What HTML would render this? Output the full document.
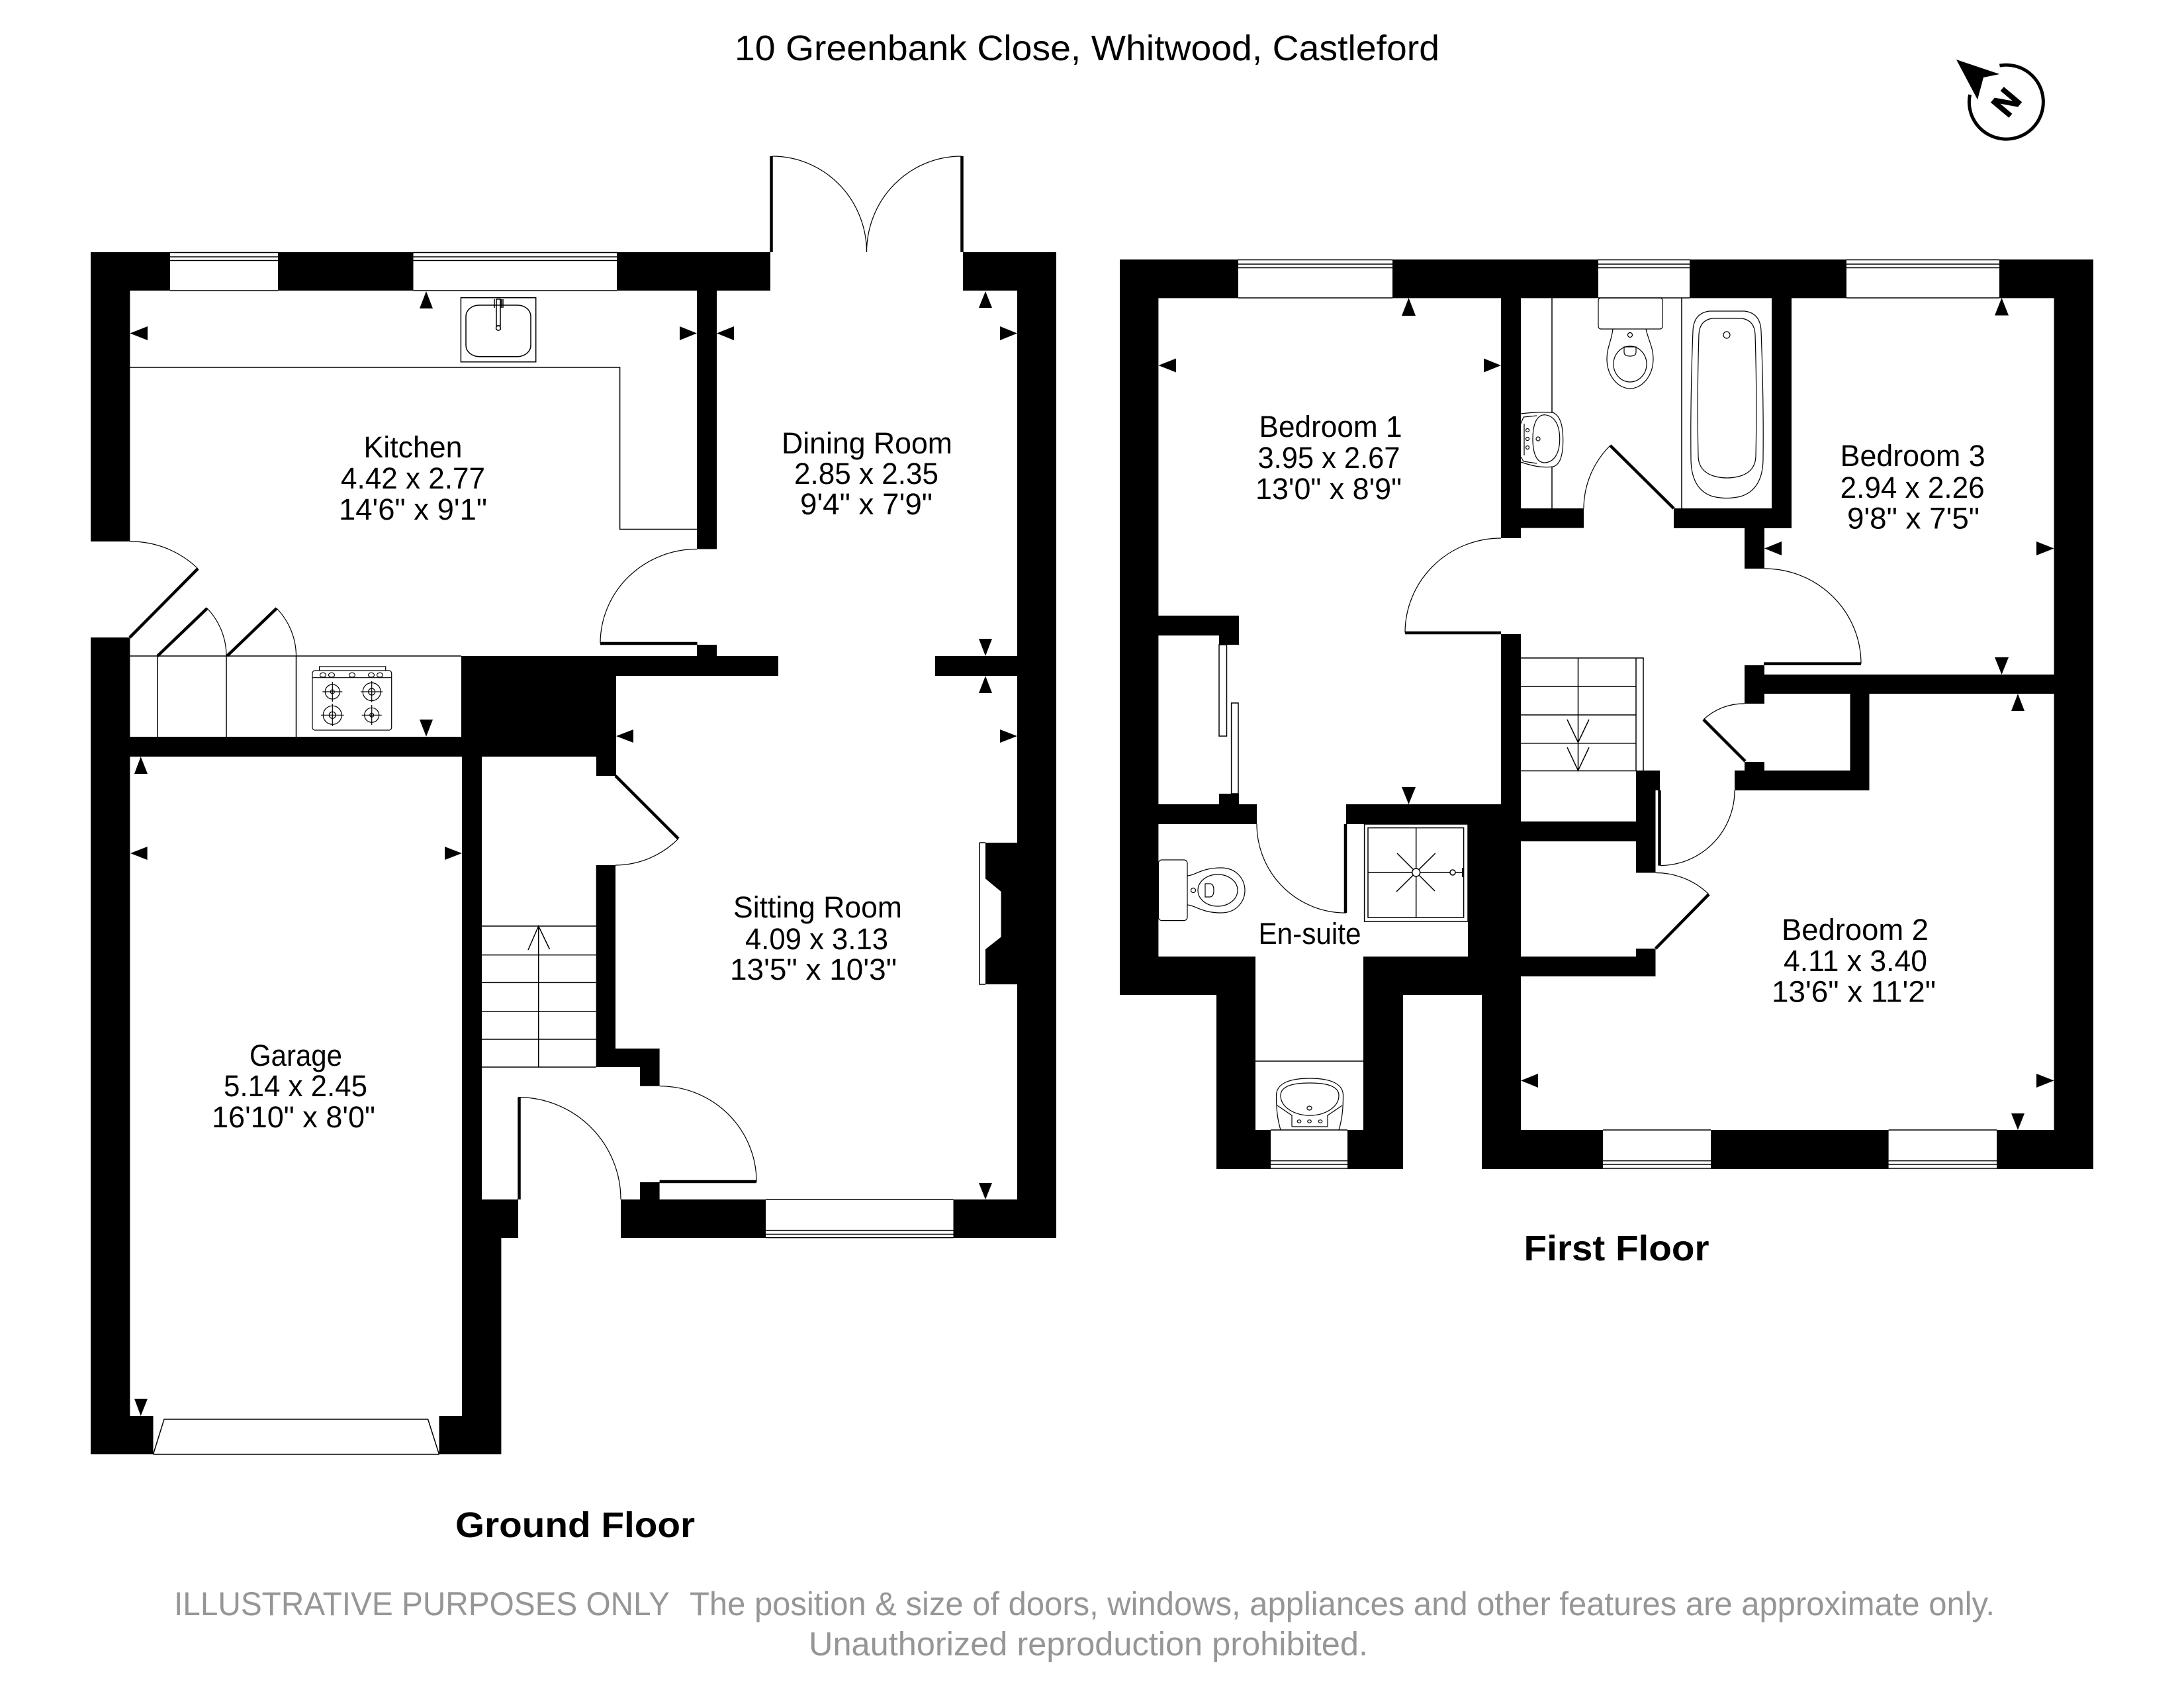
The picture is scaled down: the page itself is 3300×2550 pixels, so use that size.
<!DOCTYPE html>
<html><head><meta charset="utf-8"><title>10 Greenbank Close floor plan</title>
<style>html,body{margin:0;padding:0;background:#fff}svg{display:block}
text{font-family:"Liberation Sans",sans-serif;fill:#000}
.r{font-size:45px}.b{font-size:54px;font-weight:bold}.g{font-size:50px;fill:#969696}
.l{fill:none;stroke:#000;stroke-width:1.5}.k{fill:none;stroke:#000;stroke-width:4.5}.t{fill:none;stroke:#000;stroke-width:1.2}</style></head>
<body>
<svg xmlns="http://www.w3.org/2000/svg" width="3300" height="2550" viewBox="0 0 3300 2550">
<rect width="3300" height="2550" fill="#fff"/>

<!-- GROUND FLOOR WALLS -->
<path fill="#000" d="M137 381H257V439H137Z M420 381H624.5V439H420Z M932 381H1164V439H932Z M1455 381H1596V439H1455Z
M137 381H196.4V818H137Z M137 963H196.4V2197H137Z M1053 439H1083V829.5H1053Z M1537 381H1596V1870H1537Z
M697 991H1176V1021H697Z M1413 991H1537V1021H1413Z M1053 974H1083V991H1053Z
M697 991H931V1143H697Z M901 1143H931V1172H901Z M196 1113H900V1143H196Z
M698 1143H728V1812H698Z M698 1812H783V1870H698Z M698 1870H757.4V2197H698Z
M137 2139H231.5V2197H137Z M663.5 2139H757.4V2197H663.5Z
M900.7 1307H930V1612H900.7Z M900.7 1584H996.6V1612H900.7Z M967 1584H996.6V1640.7H967Z M967 1786H996.6V1812H967Z
M938 1812H1157V1870H938Z M1440.5 1812H1596V1870H1440.5Z
M1489 1273H1537V1487H1489V1434L1512.6 1415.5V1347L1489 1327.4Z"/>

<!-- GROUND FLOOR THIN LINES -->
<g class="l">
<path d="M257 381.5H420M257 388H420M257 393.5H420M257 439H420"/>
<path d="M624.5 381.5H932M624.5 388H932M624.5 393.5H932M624.5 439H932"/>
<path d="M1157 1812H1440.5M1157 1858.6H1440.5M1157 1864.5H1440.5M1157 1869.6H1440.5"/>
<path d="M196 555H936.6V799.5H1053"/>
<path d="M196 991H697M238 991V1113M342 991V1113M447.5 991V1113"/>
<path d="M231.5 2197H663.5M231.5 2197L248 2144H646.6L663.5 2197"/>
<path d="M1480 1273H1489M1480 1273V1487H1489"/>
<path d="M728 1399H900.7M728 1442.6H900.7M728 1484.4H900.7M728 1527.7H900.7M728 1570H900.7M728 1612H900.7"/>
<path d="M813.7 1399V1612M798 1435L813.7 1399L830.5 1434"/>
<path d="M696.4 449.7H809.7V546.7H696.4Z"/>
<rect x="704" y="461" width="98" height="77.7" rx="20" ry="17"/>
<path d="M750 452H756V492H750Z M747 452V465M757.5 452V465M760 452V465"/>
<circle cx="753" cy="495.6" r="3.5"/>
</g>

<!-- GROUND FLOOR DOORS -->
<g class="t">
<path d="M1167 236A142.5 145 0 0 1 1309.5 381"/>
<path d="M1452.5 236A143 145 0 0 0 1309.5 381"/>
<path d="M196 818A146 146 0 0 1 299 859"/>
<path d="M313 919A104 104 0 0 1 342 991"/>
<path d="M418 919A104 104 0 0 1 447.5 991"/>
<path d="M1053 829.5A146 142.5 0 0 0 907 972"/>
<path d="M1025 1267A135 135 0 0 1 930 1307"/>
<path d="M996.6 1640.7A146.4 144.3 0 0 1 1143 1785"/>
<path d="M783 1657.6A155 154.4 0 0 1 938 1812"/>
</g>
<g class="k">
<path d="M1165.5 381V236M1453.5 381V236"/>
<path d="M196 963L299 859M238 991L313 919M343 991L418 919"/>
<path d="M907 972H1053.6M930 1172L1025 1267M996.6 1785H1143M784.5 1812V1657.6"/>
</g>

<!-- COOKER -->
<g class="t">
<path d="M482.6 1013V1007H582.7V1013"/>
<rect x="472" y="1013" width="119.7" height="90" rx="4"/>
<path d="M472 1023.7H591.7"/>
<ellipse cx="488" cy="1019.7" rx="4.5" ry="3.4"/><ellipse cx="501" cy="1019.7" rx="4.5" ry="3.4"/><ellipse cx="532" cy="1019.7" rx="4.5" ry="3.4"/><ellipse cx="561" cy="1019.7" rx="4.5" ry="3.4"/><ellipse cx="574" cy="1019.7" rx="4.5" ry="3.4"/>
<circle cx="502.3" cy="1045" r="11"/><circle cx="502.3" cy="1045" r="3"/><path d="M487.3 1045H517.3M502.3 1030V1060"/>
<circle cx="561.7" cy="1045" r="13.5"/><circle cx="561.7" cy="1045" r="5"/><path d="M545 1045H578M561.7 1029V1061"/>
<circle cx="502.3" cy="1080.3" r="14"/><circle cx="502.3" cy="1080.3" r="5"/><path d="M485 1080.3H519.6M502.3 1063V1097"/>
<circle cx="561.7" cy="1080.3" r="11"/><circle cx="561.7" cy="1080.3" r="3"/><path d="M546.7 1080.3H576.7M561.7 1065V1095"/>
</g>

<!-- FIRST FLOOR WALLS -->
<path fill="#000" d="M1692 392H1871V450.4H1692Z M2104 392H2415V450.4H2104Z M2553 392H2790V450.4H2553Z M3021 392H3163V450.4H3021Z
M1692 392H1750.4V1503H1692Z M3103.6 392H3163V1766H3103.6Z
M1692 1445H1897V1503H1692Z M1838 1445H1897V1766H1838Z M1838 1707H1920V1766H1838Z M2036 1707H2120V1766H2036Z M2060 1445H2120V1766H2060Z
M2060 1445H2298V1503H2060Z M2239 1445H2298V1766H2239Z M2239 1707H2422V1766H2239Z M2585 1707H2853.6V1766H2585Z M3017 1707H3163V1766H3017Z
M2268 450H2298V813H2268Z M2298 768H2393V797.6H2298Z M2529 768H2707V798H2529Z M2677 450H2707V798H2677Z M2636 798H2666V859H2636Z
M2268 958H2298V1445H2268Z M1750 930H1872V960H1750Z M1842 960H1872V974H1842Z M1842 1199H1872V1215H1842Z
M1750 1215H1899V1245H1750Z M2034 1215H2298V1245H2034Z M2218 1215H2298V1445H2218Z
M2298 1241H2472V1271H2298Z M2472 1164H2508V1194H2472Z M2472 1164H2501.5V1318.5H2472Z M2298 1445H2501.5V1475H2298Z M2472 1433H2501.5V1445H2472Z
M2636 1005H2666V1063H2636Z M2636 1019H3103.6V1048H2636Z M2795.5 1048H2824.5V1194H2795.5Z M2621 1164H2824.5V1194H2621Z M2636 1151H2666V1164H2636Z"/>

<!-- FIRST FLOOR THIN LINES -->
<g class="l">
<path d="M1871 392.5H2104M1871 399H2104M1871 404.5H2104M1871 450H2104"/>
<path d="M2415 392.5H2553M2415 399H2553M2415 404.5H2553M2415 450H2553"/>
<path d="M2790 392.5H3021M2790 399H3021M2790 404.5H3021M2790 450H3021"/>
<path d="M1920 1707H2036M1920 1753.6H2036M1920 1759H2036M1920 1765H2036"/>
<path d="M2422 1707H2585M2422 1753.6H2585M2422 1759H2585M2422 1765H2585"/>
<path d="M2853.6 1707H3017M2853.6 1753.6H3017M2853.6 1759H3017M2853.6 1765H3017"/>
<path d="M2345 450V623M2345 705V768M2541 450V768M1897 1603H2060"/>
<rect x="1842" y="974" width="11.5" height="138"/><rect x="1860.6" y="1062" width="10.4" height="137"/>
<path d="M2298 994H2472M2298 1037H2472M2298 1080H2472M2298 1122.7H2472M2298 1164.5H2472"/>
<path d="M2384.5 994V1164M2368 1087L2384.5 1121.5L2401 1087M2368 1129L2384.5 1164L2401 1129"/>
<path d="M2472 994V1164M2483 1164V994H2472"/>
<rect x="2061.6" y="1245" width="156.4" height="147"/>
<rect x="2067" y="1250.6" width="144.6" height="135.4"/>
<path d="M2139.7 1250.6V1386M2067 1318H2191M2199 1318H2211.6M2111 1289L2168 1346M2168.8 1289L2110 1347"/>
</g>
<circle cx="2139.7" cy="1318" r="6" fill="#fff" stroke="#000" stroke-width="1.5"/>
<circle cx="2195" cy="1318" r="4" fill="#fff" stroke="#000" stroke-width="1.5"/>
<rect x="2209" y="1311" width="3" height="14" fill="#000"/>

<!-- FIRST FLOOR DOORS -->
<g class="t">
<path d="M2268 813A145 143 0 0 0 2123 955.5"/>
<path d="M2433 673A135 135 0 0 0 2393 768"/>
<path d="M2666 859A146 143.6 0 0 1 2812 1002.6"/>
<path d="M2636 1063A89 89 0 0 0 2574 1087"/>
<path d="M2621 1194A113 113.6 0 0 1 2509 1307.6"/>
<path d="M2582 1351A115 115 0 0 0 2501.5 1318.5"/>
<path d="M1899 1245A134 134 0 0 0 2034 1379"/>
</g>
<g class="k">
<path d="M2123 956H2268M2529 768L2433 673M2665 1002.6H2812M2574 1087L2637 1150M2507.5 1194V1307.6M2501.5 1433L2582 1351M2033 1245V1379"/>
</g>

<!-- BATH + WC -->
<g class="t">
<path d="M2583 470H2636Q2660 473 2661 500Q2665 600 2664 695Q2663 740 2630 750Q2609 755 2588 750Q2556 740 2555 695Q2554 600 2558 500Q2559 473 2583 470Z"/>
<path d="M2587 481H2632Q2651 484 2652 505Q2655 600 2653 690Q2652 712 2630 719Q2609 725 2589 719Q2567 712 2566 690Q2564 600 2567 505Q2568 484 2587 481Z"/>
<circle cx="2609" cy="506" r="5"/>
<rect x="2415" y="450" width="97" height="47" rx="4"/>
<path d="M2437 497C2435 515 2428 525 2428 542C2428 568 2445 587 2463 587C2481 587 2498 568 2498 542C2498 525 2491 515 2487 497"/>
<ellipse cx="2463" cy="550" rx="25" ry="27"/>
<circle cx="2463" cy="506" r="3.5"/>
<path d="M2454 524H2472V532Q2472 538 2463 538Q2454 538 2454 532Z"/>
<!-- en-suite WC -->
<rect x="1750.4" y="1299" width="43.6" height="91.6" rx="5"/>
<path d="M1794 1323C1805 1323 1815 1311 1845 1311C1870 1311 1881 1330 1881 1345C1881 1360 1870 1379 1845 1379C1815 1379 1805 1367 1794 1367"/>
<ellipse cx="1840" cy="1345" rx="30" ry="24"/>
<circle cx="1803" cy="1345" r="3.5"/>
<path d="M1821 1335V1355H1828Q1834 1355 1834 1345Q1834 1335 1828 1335Z"/>
<!-- wall basin -->
<path d="M2298 625C2315 623 2330 622 2346.7 623.3C2358 628 2361.7 645 2361.7 665C2361.7 685 2358 702 2346.7 705C2330 707 2315 704 2298 698"/>
<path d="M2333 626.7C2320 628 2316 645 2316 663C2316 681 2320 698 2333 699C2348 699 2356.7 685 2356.7 663C2356.7 641 2348 627 2333 626.7Z"/>
<path d="M2298 640L2302 630L2322 628M2298 690L2302 697L2322 700M2303 640V688"/>
<circle cx="2308" cy="650" r="2.5"/><circle cx="2308" cy="663" r="2.5"/><circle cx="2308" cy="676" r="2.5"/><circle cx="2324" cy="663" r="3"/>
<!-- en-suite basin -->
<path d="M1935 1707C1930 1690 1928.5 1675 1928.5 1655C1928.5 1636 1950 1629 1979 1629C2008 1629 2029.5 1636 2029.5 1655C2029.5 1675 2028 1690 2023 1707"/>
<path d="M1935 1655C1935 1640 1955 1636 1979 1636C2003 1636 2023 1640 2023 1655C2023 1672 2003 1685 1979 1685C1955 1685 1935 1672 1935 1655Z"/>
<path d="M1952 1684V1702M2006 1684V1702M1952 1702H2006M1930 1670L1952 1685M2028 1670L2006 1685"/>
<ellipse cx="1963" cy="1694" rx="2.8" ry="2.2"/><ellipse cx="1978.5" cy="1694" rx="2.8" ry="2.2"/><ellipse cx="1995" cy="1694" rx="2.8" ry="2.2"/><ellipse cx="1978.5" cy="1674" rx="3.6" ry="3"/>
</g>

<!-- DIMENSION ARROWS -->
<path fill="#000" d="
M196.4 503.5L223 493V514Z M644 440L654 466H634Z M1053 503.5L1027 493V514Z M1083 503.5L1109 493V514Z
M1489 440L1499 465H1479Z M1537 503.5L1511 493V514Z M1489 991L1479 965H1499Z M1489 1021L1499 1047H1479Z
M931 1112L957 1102V1122Z M1537 1112L1511 1102V1122Z M1489 1812L1479 1787H1499Z M644 1112.7L634 1087H654Z
M212.7 1143L223 1169H203Z M212.7 2139L203 2113H223Z M197 1289L222.6 1279V1299Z M698 1289L672 1279V1299Z
M1750.4 552L1777 541.5V562.5Z M2268 552L2242 541.5V562.5Z M2128.5 450L2139 477H2118Z M2128.5 1215L2118 1189H2139Z
M3024.5 450L3035 476.5H3014Z M2666 828.5L2692 818V839Z M3103.6 828.5L3077 818V839Z M3024.5 1019L3014 993H3035Z
M3049 1048L3059 1074H3039Z M2298 1632.4L2324 1622V1643Z M3103.6 1632.4L3077 1622V1643Z M3049 1707L3039 1682H3059Z"/>

<!-- COMPASS -->
<path d="M2976.5 143A56 56 0 1 0 3021.4 99" fill="none" stroke="#000" stroke-width="5"/>
<path fill="#000" d="M2956 90L3021.4 112L2997 117L2988 150.5Z"/>
<text x="3031" y="154" font-size="50" font-weight="bold" text-anchor="middle" stroke="#000" stroke-width="1.5" transform="rotate(-50 3031 154) translate(0 18)">N</text>

<!-- LABELS -->
<text x="1110" y="91" class="b" style="font-weight:normal" textLength="1065" lengthAdjust="spacingAndGlyphs">10 Greenbank Close, Whitwood, Castleford</text>

<text class="r" x="549.5" y="691" textLength="149" lengthAdjust="spacingAndGlyphs">Kitchen</text>
<text class="r" x="515" y="738" textLength="218" lengthAdjust="spacingAndGlyphs">4.42 x 2.77</text>
<text class="r" x="512" y="785" textLength="224" lengthAdjust="spacingAndGlyphs">14'6" x 9'1"</text>

<text class="r" x="1181" y="685" textLength="258" lengthAdjust="spacingAndGlyphs">Dining Room</text>
<text class="r" x="1200" y="731" textLength="218" lengthAdjust="spacingAndGlyphs">2.85 x 2.35</text>
<text class="r" x="1209" y="777" textLength="200" lengthAdjust="spacingAndGlyphs">9'4" x 7'9"</text>

<text class="r" x="1108" y="1386" textLength="255" lengthAdjust="spacingAndGlyphs">Sitting Room</text>
<text class="r" x="1126" y="1434" textLength="216" lengthAdjust="spacingAndGlyphs">4.09 x 3.13</text>
<text class="r" x="1103" y="1480" textLength="252" lengthAdjust="spacingAndGlyphs">13'5" x 10'3"</text>

<text class="r" x="377" y="1610" textLength="140" lengthAdjust="spacingAndGlyphs">Garage</text>
<text class="r" x="338" y="1656" textLength="217" lengthAdjust="spacingAndGlyphs">5.14 x 2.45</text>
<text class="r" x="320" y="1703" textLength="247" lengthAdjust="spacingAndGlyphs">16'10" x 8'0"</text>

<text class="r" x="1902.5" y="660" textLength="216" lengthAdjust="spacingAndGlyphs">Bedroom 1</text>
<text class="r" x="1900.5" y="707" textLength="215" lengthAdjust="spacingAndGlyphs">3.95 x 2.67</text>
<text class="r" x="1897" y="754" textLength="221" lengthAdjust="spacingAndGlyphs">13'0" x 8'9"</text>

<text class="r" x="2780.6" y="704" textLength="219" lengthAdjust="spacingAndGlyphs">Bedroom 3</text>
<text class="r" x="2780.6" y="752" textLength="218" lengthAdjust="spacingAndGlyphs">2.94 x 2.26</text>
<text class="r" x="2791" y="798.5" textLength="200" lengthAdjust="spacingAndGlyphs">9'8" x 7'5"</text>

<text class="r" x="2692" y="1420" textLength="222" lengthAdjust="spacingAndGlyphs">Bedroom 2</text>
<text class="r" x="2695" y="1467" textLength="217" lengthAdjust="spacingAndGlyphs">4.11 x 3.40</text>
<text class="r" x="2677" y="1513.6" textLength="248" lengthAdjust="spacingAndGlyphs">13'6" x 11'2"</text>

<text class="r" x="1901.5" y="1426" textLength="155" lengthAdjust="spacingAndGlyphs">En-suite</text>

<text class="b" x="2302.5" y="1904" textLength="280" lengthAdjust="spacingAndGlyphs">First Floor</text>
<text class="b" x="688" y="2322" textLength="362" lengthAdjust="spacingAndGlyphs">Ground Floor</text>

<text class="g" x="263" y="2440" textLength="749" lengthAdjust="spacingAndGlyphs">ILLUSTRATIVE PURPOSES ONLY</text>
<text class="g" x="1042" y="2440" textLength="1972" lengthAdjust="spacingAndGlyphs">The position &amp; size of doors, windows, appliances and other features are approximate only.</text>
<text class="g" x="1222" y="2500.7" textLength="845" lengthAdjust="spacingAndGlyphs">Unauthorized reproduction prohibited.</text>
</svg>
</body></html>
